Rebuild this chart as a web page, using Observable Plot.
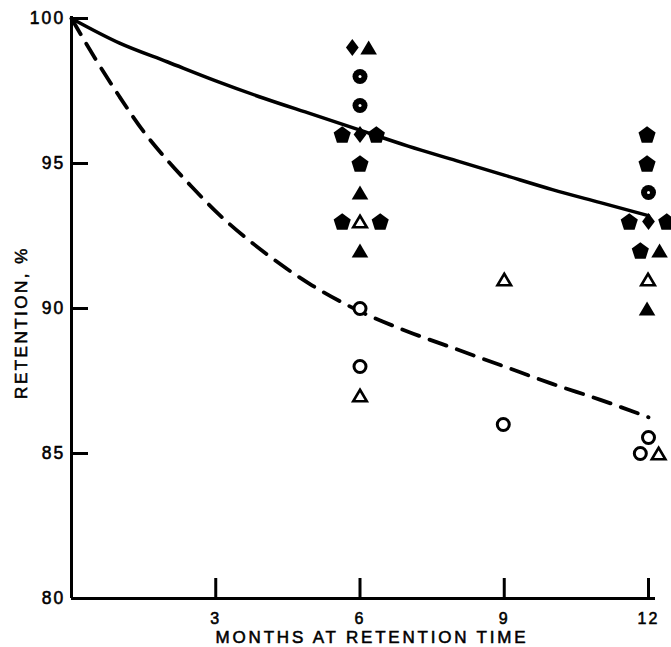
<!DOCTYPE html>
<html>
<head>
<meta charset="utf-8">
<script src="https://cdn.jsdelivr.net/npm/d3@7"></script>
<script src="https://cdn.jsdelivr.net/npm/@observablehq/plot@0.6"></script>
<style>
  html, body { margin: 0; padding: 0; background: #fff; }
</style>
</head>
<body>
<div id="chart"></div>
<script>
// ---- Data ----
const xTicks = [3, 6, 9, 12];
const yTicks = [80, 85, 90, 95, 100];
const xTitle = "MONTHS AT RETENTION TIME";
const yTitle = "RETENTION, %";

// fitted curves (solid and dashed)
const solidMonths    = [0, 1, 2, 3, 4, 5, 6, 7, 8, 9, 10, 11, 12];
const solidRetention = [100, 99.15, 98.5, 97.85, 97.25, 96.7, 96.15, 95.6, 95.1, 94.6, 94.1, 93.65, 93.2];
const dashedMonths    = [0, 0.5, 1, 1.5, 2, 2.5, 3, 4, 5, 6, 7, 8, 9, 10, 11, 12];
const dashedRetention = [100, 98.6, 97.3, 96.1, 95.1, 94.2, 93.35, 91.95, 90.8, 89.9, 89.2, 88.6, 88.0, 87.4, 86.85, 86.25];

// observed points, by symbol
const pentagonMonths     = [5.63, 6.34, 6.0, 5.63, 6.42, 11.97, 11.97, 11.6, 12.38, 11.83];
const pentagonRetention  = [96, 96, 95, 93, 93, 96, 95, 93, 93, 92];
const diamondMonths      = [5.84, 6.0, 12.0];
const diamondRetention   = [99, 96, 93];
const triangleMonths     = [6.18, 6.0, 6.0, 12.23, 11.97];
const triangleRetention  = [99, 94, 92, 92, 90];
const ringDotMonths      = [6.0, 6.0, 12.0];
const ringDotRetention   = [98, 97, 94];
const openCircleMonths    = [6.0, 6.0, 8.98, 12.0, 11.83];
const openCircleRetention = [90, 88, 86, 85.55, 85];
const openTriangleMonths    = [6.0, 6.0, 9.0, 11.99, 12.21];
const openTriangleRetention = [93, 87, 91, 91, 85];

const pts = (xs, ys) => xs.map((x, i) => ({month: x, retention: ys[i]}));

// ---- custom symbols ----
const pentagon = {
  draw(ctx, size) {
    const r = Math.sqrt(size / Math.PI);
    const off = 0.095 * r;
    for (let k = 0; k < 5; k++) {
      const a = -Math.PI / 2 + k * 2 * Math.PI / 5;
      const px = r * Math.cos(a), py = r * Math.sin(a) + off;
      if (k === 0) ctx.moveTo(px, py); else ctx.lineTo(px, py);
    }
    ctx.closePath();
  }
};
const diamond = {
  draw(ctx, size) {
    const r = Math.sqrt(size / Math.PI);
    const w = 0.75 * r;
    ctx.moveTo(0, -r); ctx.lineTo(w, 0); ctx.lineTo(0, r); ctx.lineTo(-w, 0); ctx.closePath();
  }
};
const tri = {
  draw(ctx, size) {
    const r = Math.sqrt(size / Math.PI);
    const h = 0.85 * r;
    ctx.moveTo(0, -h); ctx.lineTo(r, h); ctx.lineTo(-r, h); ctx.closePath();
  }
};

const FONT = '"Liberation Sans", Arial, sans-serif';

const chart = Plot.plot({
  width: 671,
  height: 647,
  marginLeft: 71,
  marginRight: 23,
  marginTop: 18,
  marginBottom: 49,
  style: {background: "white", color: "black", fontSize: "16px", fontFamily: FONT, overflow: "hidden"},
  x: {domain: [0, 12]},
  y: {domain: [80, 100]},
  marks: [
    Plot.ruleX([0], {strokeWidth: 3, insetTop: -2}),
    Plot.ruleY([80], {strokeWidth: 3, insetRight: -7}),
    Plot.axisX(xTicks, {tickSize: -20, tickPadding: 34, strokeWidth: 3, label: null, fontSize: 16}),
    Plot.axisY(yTicks, {tickSize: -17, tickPadding: 23, strokeWidth: 3, label: null, fontSize: 17}),
    Plot.text([xTitle], {frameAnchor: "bottom", textAnchor: "middle", dx: 12, dy: 39, lineAnchor: "middle", fontSize: 17, text: d => d}),
    Plot.text([yTitle], {frameAnchor: "left", textAnchor: "middle", dx: -50, dy: 14, rotate: -90, lineAnchor: "middle", fontSize: 17, text: d => d}),
    Plot.line(pts(solidMonths, solidRetention), {x: "month", y: "retention", curve: "monotone-x", stroke: "black", strokeWidth: 3.5}),
    Plot.line(pts(dashedMonths, dashedRetention), {x: "month", y: "retention", curve: "monotone-x", stroke: "black", strokeWidth: 3.8, strokeDasharray: "18,11"}),
    Plot.dot(pts(pentagonMonths, pentagonRetention), {x: "month", y: "retention", symbol: pentagon, r: 9, fill: "black", stroke: "none"}),
    Plot.dot(pts(diamondMonths, diamondRetention), {x: "month", y: "retention", symbol: diamond, r: 8.5, fill: "black", stroke: "none"}),
    Plot.dot(pts(triangleMonths, triangleRetention), {x: "month", y: "retention", symbol: tri, r: 8.3, fill: "black", stroke: "none"}),
    Plot.dot(pts(ringDotMonths, ringDotRetention), {x: "month", y: "retention", r: 7.5, fill: "black", stroke: "none"}),
    Plot.dot(pts(ringDotMonths, ringDotRetention), {x: "month", y: "retention", r: 1.5, fill: "white", stroke: "none"}),
    Plot.dot(pts(openCircleMonths, openCircleRetention), {x: "month", y: "retention", r: 6, fill: "white", stroke: "black", strokeWidth: 3}),
    Plot.dot(pts(openTriangleMonths, openTriangleRetention), {x: "month", y: "retention", symbol: tri, r: 6.8, fill: "white", stroke: "black", strokeWidth: 2.6})
  ]
});

// typographic / stroke touches applied to the rendered axis elements
const svg = d3.select(chart);
svg.selectAll('g[aria-label="x-axis tick"], g[aria-label="y-axis tick"]').attr("stroke-width", 3).selectAll("path").attr("stroke-width", 3);
svg.selectAll("text").each(function() {
  const t = d3.select(this);
  const s = t.text();
  const isTitle = s === xTitle || s === yTitle;
  const size = isTitle ? 17 : (yTicks.map(String).includes(s) ? 17.5 : 16);
  const spacing = s === xTitle ? 2.8 : s === yTitle ? 2.5 : 2.2;
  t.style("font-family", FONT)
   .style("font-size", size + "px")
   .style("stroke", "black")
   .style("stroke-width", "0.55px")
   .style("letter-spacing", spacing + "px");
});
document.getElementById("chart").append(chart);
</script>
</body>
</html>
